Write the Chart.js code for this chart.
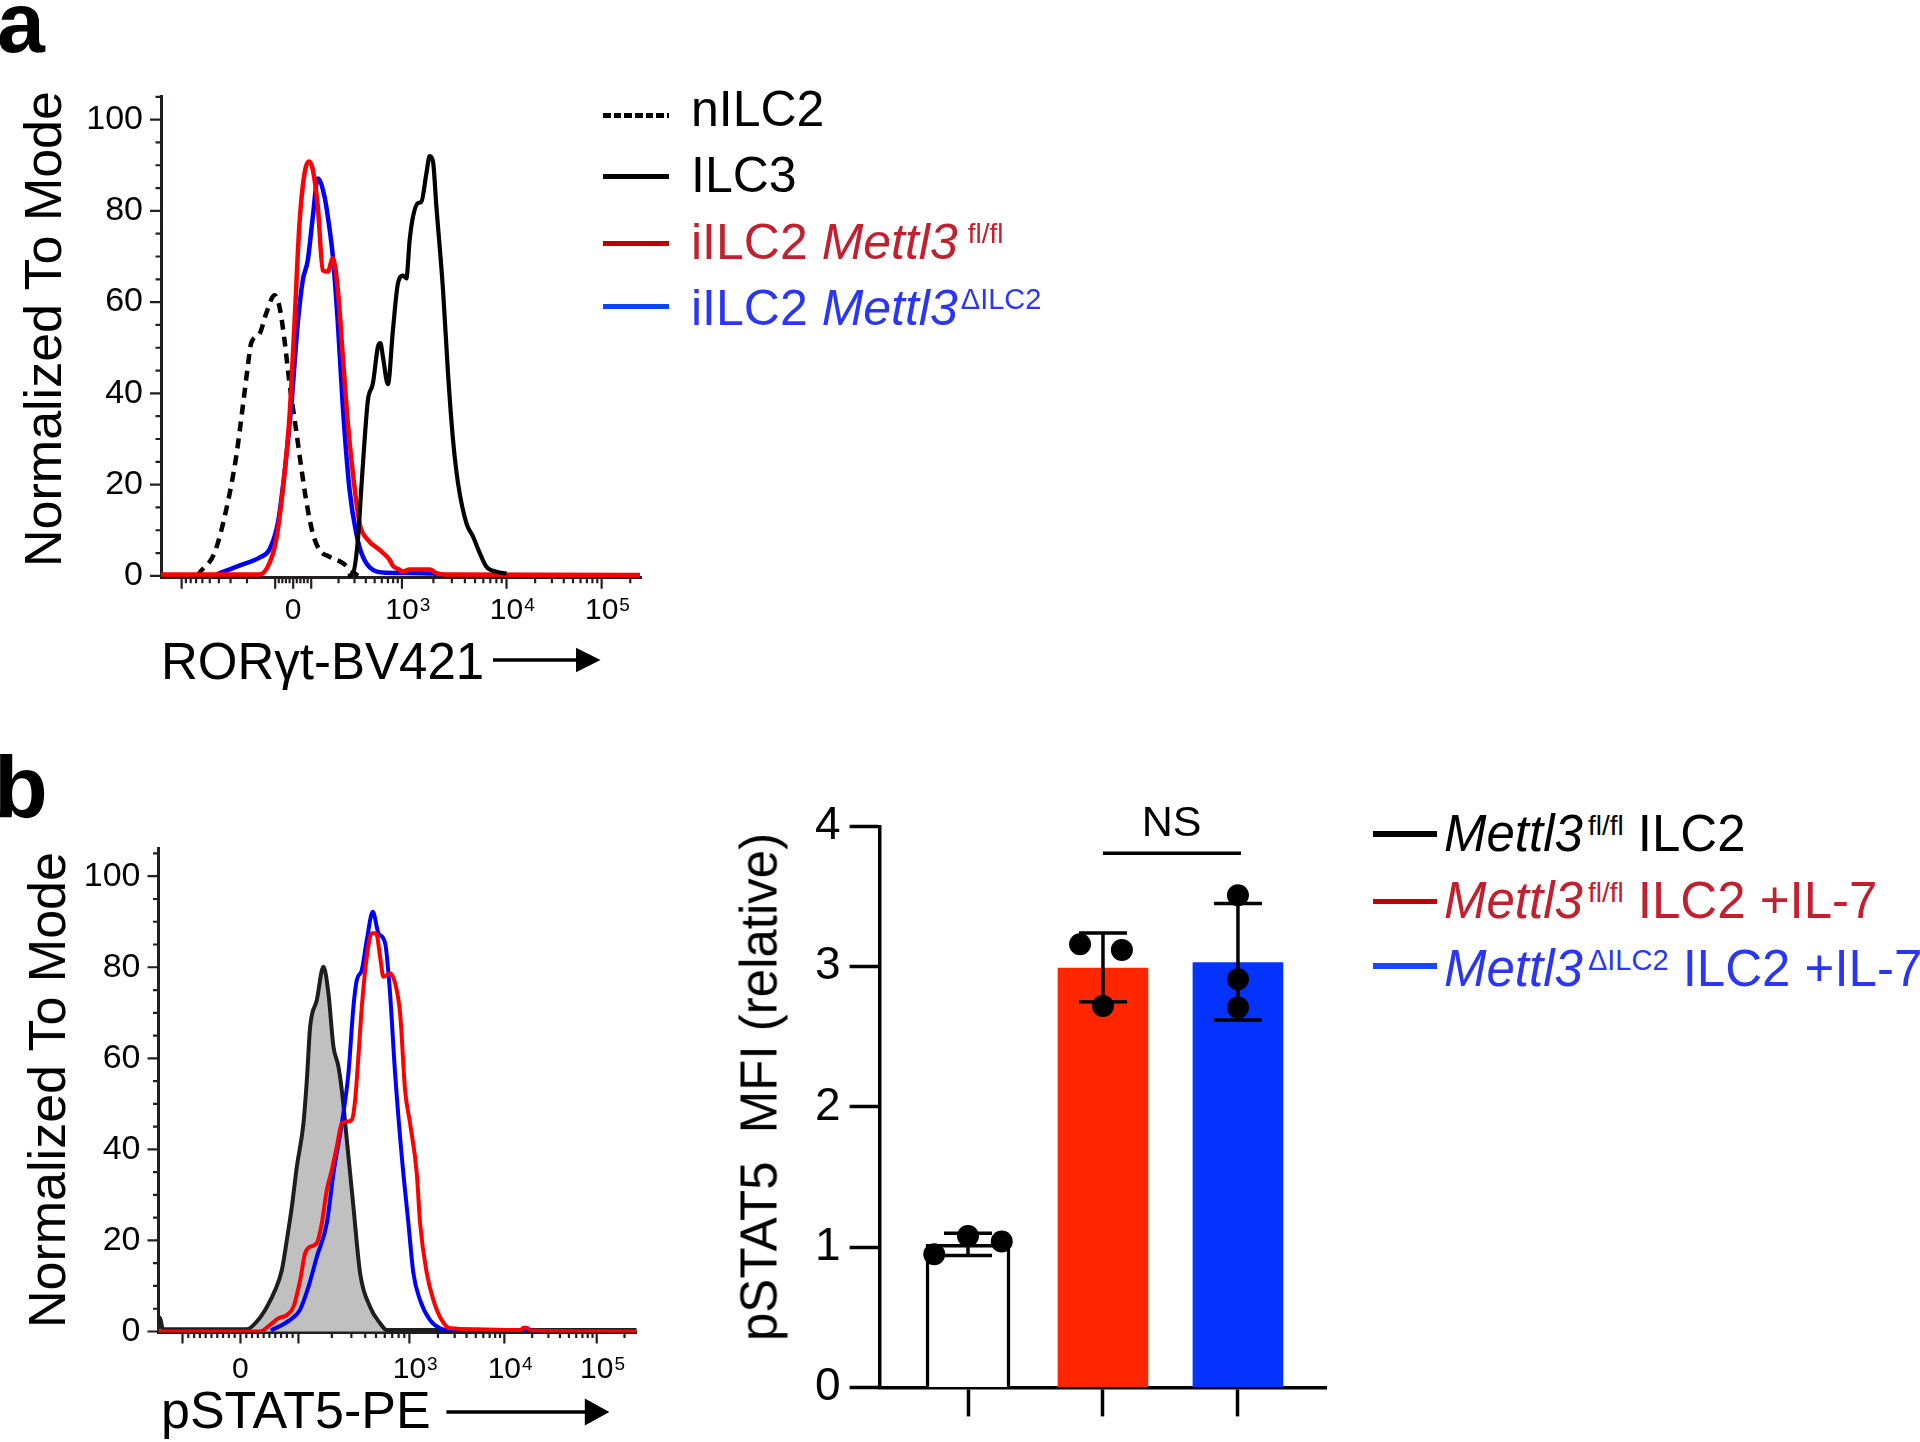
<!DOCTYPE html>
<html><head><meta charset="utf-8">
<script src="https://cdn.jsdelivr.net/npm/chart.js@4/dist/chart.umd.min.js"></script>
<style>
html,body{margin:0;background:#fff;}
#page{position:relative;width:1920px;height:1442px;overflow:hidden;font-family:"Liberation Sans",Arial,sans-serif;color:#000;}
canvas{position:absolute;}
.abs{position:absolute;white-space:pre;line-height:1;}
.rot{position:absolute;white-space:pre;line-height:1;transform:translate(-50%,-50%) rotate(-90deg);}
.sw{position:absolute;}
.sup{position:relative;top:-16px;}
</style></head>
<body><div id="page">
<canvas id="cA" width="700" height="700" style="left:0;top:0"></canvas>
<canvas id="cB" width="700" height="702" style="left:0;top:740px"></canvas>
<canvas id="cC" width="660" height="682" style="left:700px;top:760px"></canvas>

<div class="abs" style="left:-3px;top:-21.4px;font-size:86px;font-weight:bold;">a</div>
<div class="abs" style="left:-6px;top:742.7px;font-size:88px;font-weight:bold;">b</div>

<!-- panel a legend -->
<div class="sw" style="left:603px;top:112.6px;width:66px;height:5px;background:repeating-linear-gradient(to right,#000 0 7.5px,transparent 7.5px 10.7px)"></div>
<div class="sw" style="left:603px;top:173.8px;width:66px;height:5px;background:#000"></div>
<div class="sw" style="left:603px;top:241.2px;width:66px;height:5px;background:#c00000"></div>
<div class="sw" style="left:603px;top:303.6px;width:66px;height:5px;background:#0b45ff"></div>
<div class="abs" style="left:691px;top:83.7px;font-size:50px">nILC2</div>
<div class="abs" style="left:691px;top:150.2px;font-size:50px">ILC3</div>
<div class="abs" style="left:691px;top:216.7px;font-size:50px;color:#c1202e">iILC2 <i>Mettl3</i><span class="sup" style="font-size:28px;margin-left:10px">fl/fl</span></div>
<div class="abs" style="left:691px;top:283.2px;font-size:50px;color:#2a36f0">iILC2 <i>Mettl3</i><span class="sup" style="font-size:29px;margin-left:3px">ΔILC2</span></div>

<!-- panel b legend -->
<div class="sw" style="left:1373px;top:831.2px;width:64px;height:5.5px;background:#000"></div>
<div class="sw" style="left:1373px;top:898.5px;width:64px;height:5.5px;background:#c00000"></div>
<div class="sw" style="left:1373px;top:963.4px;width:64px;height:5.5px;background:#1747ff"></div>
<div class="abs" style="left:1444px;top:807.8px;font-size:51px"><i>Mettl3</i><span class="sup" style="font-size:28px;margin-left:5px">fl/fl</span> ILC2</div>
<div class="abs" style="left:1444px;top:875.1px;font-size:51px;color:#c1202e"><i>Mettl3</i><span class="sup" style="font-size:28px;margin-left:5px">fl/fl</span> ILC2 +IL-7</div>
<div class="abs" style="left:1444px;top:942.5px;font-size:51px;color:#2a36f0"><i>Mettl3</i><span class="sup" style="font-size:29px;margin-left:5px">ΔILC2</span> ILC2 +IL-7</div>

<!-- axis titles -->
<div class="rot" style="left:42.8px;top:329px;font-size:52px">Normalized To Mode</div>
<div class="rot" style="left:46.9px;top:1090px;font-size:52px">Normalized To Mode</div>
<div class="rot" style="left:758.5px;top:1087px;font-size:51px">pSTAT5  MFI (relative)</div>
<div class="abs" style="left:161px;top:635.8px;font-size:51px">RORγt-BV421</div>
<div class="abs" style="left:161px;top:1383.5px;font-size:52px">pSTAT5-PE</div>
<svg style="position:absolute;left:480px;top:640px" width="130" height="40"><line x1="13" y1="20" x2="97" y2="20" stroke="#000" stroke-width="3.5"/><polygon points="96,7.8 120.5,20 96,32.2" fill="#000"/></svg>
<svg style="position:absolute;left:440px;top:1392px" width="180" height="40"><line x1="6.4" y1="20" x2="146" y2="20" stroke="#000" stroke-width="3.5"/><polygon points="144.8,6.6 169.4,20 144.8,33.4" fill="#000"/></svg>
<div class="abs" style="left:1171.5px;top:799.9px;font-size:43px;transform:translateX(-50%)">NS</div>
</div>

<script>
// ================= DATA =================
// Panel a: RORγt-BV421 histograms. x = position along the biexponential display axis, y = % of mode
const aNilc2X = [-0.95,-0.933,-0.783,-0.666,-0.566,-0.5,-0.45,-0.416,-0.333,-0.266,-0.183,-0.133,-0.083,-0.033,0,0.033,0.083,0.133,0.2,0.267,0.367,0.5,0.6,0.65];
const aNilc2Y = [0,0.6,5,14.4,26,37,45.8,51,53,57.5,61.5,59,51.7,42.2,37,32,24,16.6,9.3,5.7,4.2,2.8,0.9,0];
const aIlc3X = [0.55,0.6,0.65,0.683,0.717,0.75,0.8,0.85,0.875,0.9,0.95,1.0,1.05,1.1,1.134,1.167,1.2,1.25,1.284,1.334,1.367,1.4,1.434,1.5,1.55,1.6,1.65,1.734,1.8,1.867,1.934,2.034,2.134];
const aIlc3Y = [0,0.5,7.9,18.8,29.8,38.5,42.2,50.2,51,48,42,53.9,64.1,65.8,65.2,73.6,78.7,81.7,82,88.2,92,90.8,80.9,62.7,44.4,29.8,20.3,11.5,8.6,5,2,0.9,0.5];
const aFlX = [-1.316,-0.333,-0.233,-0.166,-0.1,-0.033,0.017,0.067,0.117,0.16,0.2,0.25,0.3,0.35,0.4,0.45,0.5,0.55,0.6,0.667,0.75,0.867,0.967,1.0,1.067,1.1,1.167,1.367,1.434,1.534,3.467];
const aFlY = [0.3,0.3,2.8,7.9,18.8,34.9,55.4,77.3,88.2,90.8,89,80.9,67,66.7,69.6,62.7,48,33.4,22.5,11.5,7.9,5.7,3.5,2.2,1.3,0.9,1.4,1.4,0.6,0.3,0.2];
const aDelX = [-0.766,-0.5,-0.333,-0.233,-0.15,-0.083,-0.016,0.05,0.1,0.15,0.2,0.25,0.317,0.35,0.4,0.45,0.5,0.567,0.634,0.7,0.8,0.93,1.4,1.45];
const aDelY = [0.3,2.5,4,5.8,11.5,22.5,37,55.4,64.8,69.2,78.7,87.1,83.1,78.7,70,55.4,37,18.8,9.3,4.2,1.3,0.7,0.5,0.2];
// panel a axis: anchor values and their display positions
const aAxisVals = [-1000,-100,100,1000,10000,100000];
const aAxisPos  = [-1.11,-0.176,0.184,1.09,2.134,3.084];
const aRange = [-1.316,3.484];

// Panel b: pSTAT5-PE histograms
const bIsoX = [-0.824,-0.81,-0.78,0.06,0.16,0.26,0.343,0.41,0.46,0.51,0.56,0.626,0.66,0.693,0.76,0.826,0.876,0.926,0.976,1.01,1.06,1.126,1.193,1.293,1.393,1.46,3.96];
const bIsoY = [0.5,3,0.5,0.5,2.2,5.4,9.1,13.5,20.1,27.4,36.2,45.7,55.2,66.9,72.8,80.1,74.3,62.6,58.2,53,42.1,27.4,12.8,5.4,1.8,0.3,0.3];
const bFlX = [-0.824,0.19,0.29,0.376,0.46,0.526,0.593,0.643,0.693,0.76,0.81,0.86,0.91,0.96,1.01,1.06,1.11,1.143,1.176,1.21,1.26,1.31,1.353,1.393,1.426,1.493,1.543,1.593,1.643,1.693,1.76,1.793,1.86,1.926,2.01,2.093,2.36,2.8,2.826,2.86,2.9,3.96];
const bFlY = [0,0,1.4,2.9,3.6,5.4,11.3,17.2,18.6,19.4,23.8,31.1,35.5,40.6,45.7,46.1,46.5,50.8,60.4,71.3,82.3,87.5,87.5,82.3,77.9,78.7,76.5,69.9,53,45.7,34.7,23.8,12.8,6.9,2.5,0.7,0.5,0.3,0.8,0.8,0.2,0];
const bDelX = [0.3,0.49,0.59,0.676,0.76,0.86,0.926,1.01,1.076,1.126,1.16,1.21,1.26,1.32,1.376,1.443,1.49,1.543,1.61,1.676,1.726,1.793,1.893,1.993,2.1,2.8,2.85,2.9,3.0];
const bDelY = [0.2,2.5,4.7,9.8,16.4,23.8,34.7,45.7,56.7,71.3,77.2,79.4,86,92.2,87.5,85.3,75,56.7,38.4,23.8,12.8,6.9,2.5,0.7,0.3,0.3,0.6,0.3,0];
const bAxisVals = [-100,100,1000,10000,100000];
const bAxisPos  = [-0.584,0.576,1.686,2.636,3.56];
const bRange = [-0.824,3.96];

// shared tick labels
const xLabelVals = [0,1000,10000,100000];
const xLabelBase = ['0','10','10','10'];
const xLabelExp  = ['','3','4','5'];
const yTickVals = [0,20,40,60,80,100];

// Bar chart
const barGroups = ['Mettl3fl/fl ILC2','Mettl3fl/fl ILC2 +IL-7','Mettl3ΔILC2 ILC2 +IL-7'];
const barMeans = [1.02,2.99,3.03];
const barErrLow = [0.94,2.75,2.62];
const barErrHigh = [1.10,3.24,3.45];
const dotValues = [[0.95,1.08,1.04],[3.16,3.12,2.72],[3.51,2.91,2.71]];
const dotJitter = [[-0.25,0,0.25],[-0.17,0.14,0],[0,0,0]];
const barYTicks = [0,1,2,3,4];
const nsPair = [1,2];
const nsLevel = 3.81;

// ================= HELPERS =================
const FAM = '"Liberation Sans", Arial, sans-serif';
Chart.defaults.font.family = FAM;
Chart.defaults.color = '#000';
const zip = (xs, ys) => xs.map((x,i)=>({x, y: ys[i]}));

function makeAxis(vals, pos){
  const iN = vals.indexOf(-100), iP = vals.indexOf(100);
  return function(v){
    if (v >= -100 && v <= 100) return pos[iN] + (v+100)/200*(pos[iP]-pos[iN]);
    const s = Math.sign(v), L = Math.log10(Math.abs(v));
    const idx = vals.map((a,i)=>i).filter(i=>Math.sign(vals[i])===s).sort((i,j)=>Math.abs(vals[i])-Math.abs(vals[j]));
    const lg = i => Math.log10(Math.abs(vals[i]));
    for (let k=0;k<idx.length-1;k++){
      const a=idx[k], b=idx[k+1];
      if (Math.abs(v) <= Math.abs(vals[b])) return pos[a]+(pos[b]-pos[a])*(L-lg(a))/(lg(b)-lg(a));
    }
    if (idx.length<2) return pos[idx[0]] + s*(L-lg(idx[0]));
    const a=idx[idx.length-2], b=idx[idx.length-1];
    return pos[b]+(pos[b]-pos[a])*(L-lg(b))/(lg(b)-lg(a));
  };
}
function minorTicks(vals, f, step, range){
  const out = [];
  for (let v=-100+step; v<100-1e-9; v+=step) out.push(f(v));
  const pos = vals.filter(v=>v>=100).sort((a,b)=>a-b);
  const neg = vals.filter(v=>v<=-100).map(Math.abs).sort((a,b)=>a-b);
  for (let d=100; d<=pos[pos.length-1]; d*=10) for (let k=2;k<=9;k++) out.push(f(k*d));
  for (let d=100; d<neg[neg.length-1]; d*=10) for (let k=2;k<=9;k++) out.push(f(-k*d));
  return out.filter(p=>p>range[0] && p<range[1]);
}
function flowAxisPlugin(cfg){
  return {
    id: 'flowAxis',
    afterDraw(chart){
      const {ctx, chartArea:ca} = chart; const x = chart.scales.x, y = chart.scales.y;
      ctx.save();
      ctx.strokeStyle = '#231f20'; ctx.lineWidth = 2.2; ctx.lineCap = 'butt';
      ctx.beginPath();
      cfg.xMajor.forEach(v=>{const p=x.getPixelForValue(v); ctx.moveTo(p,ca.bottom); ctx.lineTo(p,ca.bottom+11);});
      cfg.xMinor.forEach(v=>{const p=x.getPixelForValue(v); ctx.moveTo(p,ca.bottom); ctx.lineTo(p,ca.bottom+5.5);});
      cfg.yMajor.forEach(v=>{const p=y.getPixelForValue(v); ctx.moveTo(ca.left,p); ctx.lineTo(ca.left-11,p);});
      cfg.yMinor.forEach(v=>{const p=y.getPixelForValue(v); ctx.moveTo(ca.left,p); ctx.lineTo(ca.left-5.5,p);});
      ctx.stroke();
      ctx.fillStyle = '#000'; ctx.textBaseline = 'alphabetic';
      const base = y.getPixelForValue(0);
      cfg.labelPos.forEach((pv,i)=>{
        const p = x.getPixelForValue(pv), by = base + cfg.labelDy;
        ctx.font = '30px ' + FAM; ctx.textAlign = 'center';
        ctx.fillText(xLabelBase[i], p, by);
        if (xLabelExp[i]){
          const w = ctx.measureText(xLabelBase[i]).width;
          ctx.font = '19px ' + FAM; ctx.textAlign = 'left';
          ctx.fillText(xLabelExp[i], p + w/2 + 1, by - 8);
        }
      });
      ctx.restore();
    }
  };
}
function yMinorList(max){ const o=[]; for(let v=5; v<=max; v+=5) if (v%20!==0) o.push(v); return o; }

function flowChart(id, datasets, range, yMin, yMax, yWidth, pad, axisVals, axisPos, linStep, labelDy){
  const f = makeAxis(axisVals, axisPos);
  const cfg = {
    xMajor: axisVals.concat([0]).map(f).filter(p=>p>range[0]&&p<range[1]),
    xMinor: minorTicks(axisVals, f, linStep, range),
    yMajor: yTickVals, yMinor: yMinorList(yMax),
    labelPos: xLabelVals.map(f), labelDy
  };
  return new Chart(document.getElementById(id), {
    type: 'line',
    data: { datasets },
    options: {
      responsive: false, animation: false, devicePixelRatio: 1,
      layout: { padding: pad },
      plugins: { legend: {display:false}, tooltip: {enabled:false} },
      elements: { point: {radius:0}, line: {cubicInterpolationMode:'monotone', borderJoinStyle:'round'} },
      scales: {
        x: { type:'linear', min: range[0], max: range[1],
             afterFit(s){ s.height = 60; },
             ticks: { display:false },
             grid: { display:true, drawOnChartArea:false, drawTicks:false },
             border: { display:true, width:3, color:'#231f20' } },
        y: { type:'linear', min: yMin, max: yMax,
             afterFit(s){ s.width = yWidth; },
             afterBuildTicks(s){ s.ticks = yTickVals.map(v=>({value:v})); },
             ticks: { padding:18, font:{size:34}, color:'#000', autoSkip:false, callback:(v)=>String(v) },
             grid: { display:true, drawOnChartArea:false, drawTicks:false },
             border: { display:true, width:3, color:'#231f20' } }
      }
    },
    plugins: [flowAxisPlugin(cfg)]
  });
}

// ================= PANEL a =================
flowChart('cA', [
  { label:'ILC3', data: zip(aIlc3X,aIlc3Y), borderColor:'#000', borderWidth:4.2, order:0 },
  { label:'iILC2 Mettl3 fl/fl', data: zip(aFlX,aFlY), borderColor:'#ff0000', borderWidth:4.5, order:1 },
  { label:'iILC2 Mettl3 ΔILC2', data: zip(aDelX,aDelY), borderColor:'#0000ff', borderWidth:4.5, order:2 },
  { label:'nILC2', data: zip(aNilc2X,aNilc2Y), borderColor:'#000', borderWidth:4.5, borderDash:[10,7], order:3 }
], aRange, -0.4, 105, 161, {left:0, right:58.3, top:96.8, bottom:62.3}, aAxisVals, aAxisPos, 20, 43.5);

// ================= PANEL b histogram =================
flowChart('cB', [
  { label:'Mettl3 fl/fl ILC2 +IL-7', data: zip(bFlX,bFlY), borderColor:'#ff0000', borderWidth:4, order:0 },
  { label:'Mettl3 ΔILC2 ILC2 +IL-7', data: zip(bDelX,bDelY), borderColor:'#0000ff', borderWidth:4, order:1 },
  { label:'Mettl3 fl/fl ILC2', data: zip(bIsoX,bIsoY), borderColor:'#1e1e1e', borderWidth:4, backgroundColor:'#c0c0c0', fill:'origin', order:2 }
], bRange, -0.2, 106, 158.5, {left:0, right:63.3, top:108.9, bottom:49.6}, bAxisVals, bAxisPos, 10, 46.3);

// ================= PANEL b bar chart =================
const errPlugin = {
  id:'errBars',
  afterDatasetsDraw(chart){
    const {ctx} = chart; const x = chart.scales.x, y = chart.scales.y;
    ctx.save(); ctx.strokeStyle='#000'; ctx.lineWidth=3.5; ctx.lineCap='butt';
    ctx.beginPath();
    barMeans.forEach((m,i)=>{
      const px = x.getPixelForValue(i), lo = y.getPixelForValue(barErrLow[i]), hi = y.getPixelForValue(barErrHigh[i]);
      ctx.moveTo(px,lo); ctx.lineTo(px,hi);
      ctx.moveTo(px-24,hi); ctx.lineTo(px+24,hi);
      ctx.moveTo(px-24,lo); ctx.lineTo(px+24,lo);
    });
    const yN = y.getPixelForValue(nsLevel);
    ctx.moveTo(x.getPixelForValue(nsPair[0]), yN); ctx.lineTo(x.getPixelForValue(nsPair[1])+3, yN);
    ctx.stroke(); ctx.restore();
  }
};
const dots = [];
dotValues.forEach((vals,i)=>vals.forEach((v,j)=>dots.push({x: i + dotJitter[i][j], y: v})));
new Chart(document.getElementById('cC'), {
  type:'bar',
  data:{ datasets:[
    { type:'bar', label: barGroups[0], data:[{x:0, y:barMeans[0]}], backgroundColor:'#ffffff', borderColor:'#000', borderWidth:3.5, barThickness:84, grouped:false, order:2 },
    { type:'bar', label: barGroups[1]+' / '+barGroups[2], data:[{x:1, y:barMeans[1]},{x:2, y:barMeans[2]}], backgroundColor:['#ff2600','#0433ff'], borderWidth:0, barThickness:90, grouped:false, order:2 },
    { type:'scatter', label:'replicates', data: dots, pointRadius:11, pointBackgroundColor:'#000', pointBorderWidth:0, order:0 }
  ]},
  options:{
    responsive:false, animation:false, devicePixelRatio:1,
    layout:{ padding:{left:0, right:33.5, top:66.5, bottom:14.6} },
    plugins:{ legend:{display:false}, tooltip:{enabled:false} },
    scales:{
      x:{ type:'linear', min:-0.655, max:2.656, offset:false,
          afterFit(s){ s.height = 40; },
          afterBuildTicks(s){ s.ticks = barGroups.map((g,i)=>({value:i})); },
          ticks:{ callback:()=>'' , autoSkip:false},
          grid:{ display:true, offset:false, drawOnChartArea:false, drawTicks:true, tickLength:29, tickWidth:3.5, tickColor:'#000', color:'#000' },
          border:{ display:true, width:3.5, color:'#000' } },
      y:{ type:'linear', min:0, max:4,
          afterFit(s){ s.width = 179.6; },
          afterBuildTicks(s){ s.ticks = barYTicks.map(v=>({value:v})); },
          ticks:{ font:{size:46}, color:'#000', padding:9, callback:(v)=>String(v) },
          grid:{ display:true, offset:false, drawOnChartArea:false, drawTicks:true, tickLength:30, tickWidth:3.5, tickColor:'#000', color:'#000' },
          border:{ display:true, width:3.5, color:'#000' } }
    }
  },
  plugins:[errPlugin]
});
</script>
</body></html>
